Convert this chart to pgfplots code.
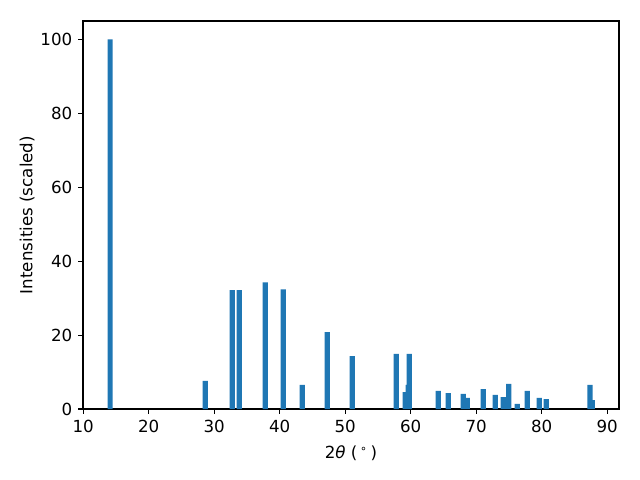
\documentclass[border=0pt]{standalone}
\usepackage{pgfplots}
\pgfplotsset{compat=1.18}
\usepackage{fontspec}
\setmainfont{DejaVu Sans}
\definecolor{C0}{HTML}{1F77B4}
\begin{document}
\fontsize{12}{14}\selectfont
\begin{tikzpicture}
% fixed page: 640x480 px at 0.72pt per px, axis box from (83,21) to (619,409)
\useasboundingbox (-59.76pt,-51.12pt) rectangle (401.04pt,294.48pt);
\begin{axis}[
    scale only axis,
    width=385.92pt,
    height=279.36pt,
    xmin=9.98, xmax=91.8,
    ymin=0, ymax=105,
    xtick={10,20,...,90},
    ytick={0,20,...,100},
    tick align=outside,
    tick pos=left,
    major tick length=3.5pt,
    axis line style={line width=0.8pt},
    every tick/.style={line width=0.8pt, black},
    /pgf/number format/assume math mode=true,
    ticklabel style={font=\fontsize{12}{14}\selectfont},
    label style={font=\fontsize{12}{14}\selectfont},
    xlabel={2\textit{θ} (\,\textsuperscript{∘}\,)},
    ylabel={Intensities (scaled)},
    xlabel style={yshift=-1.5pt},
    ylabel style={yshift=-4pt},
    ybar,
    bar width=0.8,
    bar shift=0pt,
    ]
\addplot[fill=C0, draw=none] coordinates {
(14.12,100) (28.63,7.6) (32.75,32.2) (33.82,32.2) (37.79,34.3)
(40.53,32.4) (43.44,6.5) (47.25,20.8) (51.07,14.3) (57.79,14.9)
(59.16,4.6) (59.62,6.5) (59.77,14.9) (64.20,4.9) (65.73,4.3)
(68.02,4.1) (68.63,3.0) (71.07,5.4) (72.90,3.8) (74.12,3.2)
(74.96,6.8) (76.26,1.4) (77.79,4.9) (79.62,3.0) (80.69,2.7)
(87.36,6.5) (87.70,2.4)
};
\end{axis}
\end{tikzpicture}
\end{document}
